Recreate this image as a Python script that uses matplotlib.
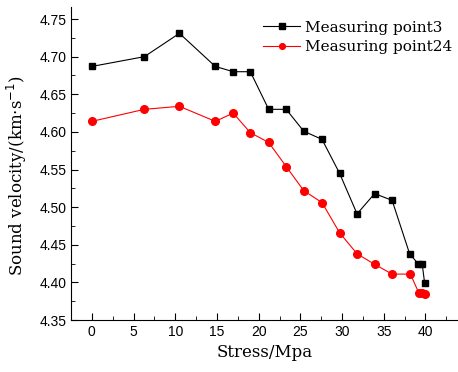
import matplotlib.pyplot as plt
import numpy as np

stress3 = [0, 6.3, 10.5, 14.8, 16.95, 19.0, 21.2, 23.3, 25.4, 27.6, 29.7, 31.8, 33.9, 36.0, 38.1, 39.1, 39.6, 39.9]
vel3 = [4.687, 4.700, 4.731, 4.687, 4.680, 4.680, 4.630, 4.630, 4.601, 4.590, 4.545, 4.491, 4.518, 4.509, 4.438, 4.425, 4.425, 4.399]

stress24 = [0, 6.3, 10.5, 14.8, 16.95, 19.0, 21.2, 23.3, 25.4, 27.6, 29.7, 31.8, 33.9, 36.0, 38.2, 39.2, 39.6, 39.9]
vel24 = [4.614, 4.630, 4.634, 4.614, 4.625, 4.599, 4.586, 4.554, 4.522, 4.506, 4.466, 4.438, 4.424, 4.411, 4.411, 4.386, 4.386, 4.385]

xticks = [0, 5, 10, 15, 20, 25, 30, 35, 40]
yticks = [4.35, 4.40, 4.45, 4.50, 4.55, 4.60, 4.65, 4.70, 4.75]

serif = 'DejaVu Serif'

fig = plt.figure(figsize=(4.58, 3.72), dpi=100)
ax = fig.add_axes([71 / 458, 1 - 320 / 372, (458 - 71) / 458, (320 - 7) / 372])

ax.plot(stress3, vel3, color='black', lw=0.8, marker='s', ms=5, label='Measuring point3')
ax.plot(stress24, vel24, color='red', lw=0.8, marker='o', ms=5.5, label='Measuring point24')

ax.set_xlim(-2.05, 43.9)
ax.set_ylim(4.35, 4.766)
ax.set_xticks(xticks)
ax.set_yticks(yticks)
ax.set_xticks(np.arange(-2.5, 44, 5), minor=True)
ax.set_yticks(np.arange(4.375, 4.77, 0.05), minor=True)
ax.set_yticklabels(['%.2f' % v for v in yticks])

for s in ['top', 'right']:
    ax.spines[s].set_visible(False)
ax.tick_params(which='major', direction='in', length=5, labelsize=10,
               labelfontfamily='Liberation Sans')
ax.tick_params(which='minor', direction='in', length=3)

ax.set_xlabel('Stress/Mpa', fontfamily=serif, fontsize=12)
ax.set_ylabel('Sound velocity/(km$\\cdot$s$^{-1}$)', fontfamily=serif, fontsize=12)
ax.yaxis.set_label_coords(-0.108, 0.46)

ax.legend(loc='upper right', bbox_to_anchor=(1.02, 1.0), frameon=False,
          prop={'family': serif, 'size': 11}, handlelength=2.4, handletextpad=0.3,
          labelspacing=0.35, markerscale=0.75)

fig.savefig('out.png', dpi=100)
